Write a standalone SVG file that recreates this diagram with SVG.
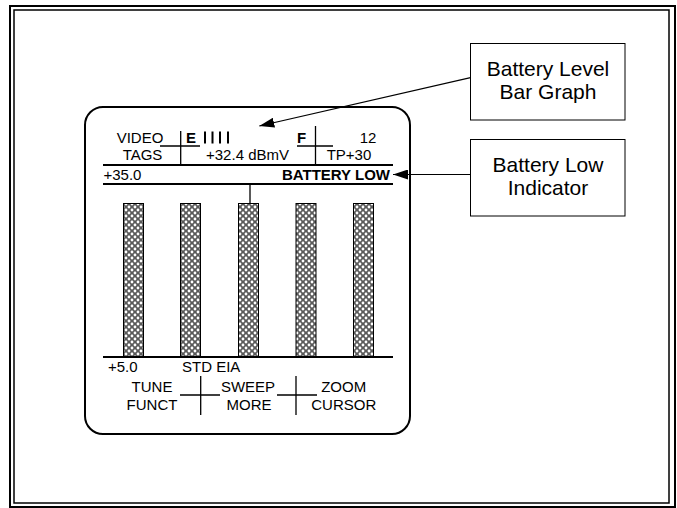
<svg xmlns="http://www.w3.org/2000/svg" width="677" height="508" viewBox="0 0 677 508">
<style>
.t{font-family:"Liberation Sans",Arial,sans-serif;font-size:15px;fill:#000}
.b{font-weight:bold}
.c{font-family:"Liberation Sans",Arial,sans-serif;font-size:21px;fill:#000;text-anchor:middle}
.m{text-anchor:middle}
.ln{stroke:#000;stroke-width:1.3;fill:none}
.tk{stroke:#000;stroke-width:2;fill:none}
.bar{fill:url(#hatch);stroke:#000;stroke-width:1}
.box{fill:#fff;stroke:#000;stroke-width:1}
.con{stroke:#000;stroke-width:1.2;fill:none;marker-end:url(#arr)}
</style>
<defs>
<pattern id="hatch" width="6" height="6" patternUnits="userSpaceOnUse">
<rect width="6" height="6" fill="#5a5a5a"/>
<circle cx="3" cy="3" r="1.4" fill="#fff"/>
<circle cx="0" cy="0" r="1.4" fill="#fff"/>
<circle cx="6" cy="0" r="1.4" fill="#fff"/>
<circle cx="0" cy="6" r="1.4" fill="#fff"/>
<circle cx="6" cy="6" r="1.4" fill="#fff"/>
</pattern>
<marker id="arr" markerUnits="userSpaceOnUse" markerWidth="15" markerHeight="10" refX="15" refY="5" orient="auto">
<path d="M0,0 L15,5 L0,10 z" fill="#000"/>
</marker>
</defs>
<rect x="0" y="0" width="677" height="508" fill="#fff"/>
<g id="frame">
<rect x="10" y="6" width="665" height="501" fill="none" stroke="#000" stroke-width="2"/>
<rect x="14" y="10" width="655" height="493" fill="none" stroke="#000" stroke-width="1.5"/>
</g>
<g id="screen">
<rect x="85" y="107" width="325" height="327" rx="18" ry="18" class="tk"/>
<text class="t m" x="140" y="143">VIDEO</text>
<text class="t m" x="142.5" y="159.5">TAGS</text>
<text class="t b" x="186" y="143">E</text>
<rect x="204" y="131.5" width="2" height="12" fill="#000"/>
<rect x="211.5" y="131.5" width="2" height="12" fill="#000"/>
<rect x="219" y="131.5" width="2" height="12" fill="#000"/>
<rect x="227" y="131.5" width="2" height="12" fill="#000"/>
<text class="t b" x="297" y="143">F</text>
<text class="t m" x="368" y="143">12</text>
<text class="t m" x="247.5" y="159.5">+32.4 dBmV</text>
<text class="t m" x="349" y="159.5">TP+30</text>
<path class="ln" d="M180.7,131 V165 M160,146 H200 M315.5,126 V165 M297,146 H333"/>
<path class="tk" d="M103,165 H393 M103,184 H393 M103,357 H393"/>
<text class="t" x="103.5" y="179.5">+35.0</text>
<text class="t b" x="390" y="179.5" text-anchor="end">BATTERY LOW</text>
<path class="ln" d="M250,184 V203"/>
<rect class="bar" x="123.5" y="203.5" width="20" height="153"/>
<rect class="bar" x="180.5" y="203.5" width="20" height="153"/>
<rect class="bar" x="238.5" y="203.5" width="20" height="153"/>
<rect class="bar" x="296" y="203.5" width="20" height="153"/>
<rect class="bar" x="353.5" y="203.5" width="20" height="153"/>
<text class="t" x="108" y="372">+5.0</text>
<text class="t" x="182" y="372">STD EIA</text>
<text class="t m" x="152" y="392">TUNE</text>
<text class="t m" x="152" y="409.5">FUNCT</text>
<text class="t m" x="248" y="392">SWEEP</text>
<text class="t m" x="249" y="409.5">MORE</text>
<text class="t m" x="343.7" y="392">ZOOM</text>
<text class="t m" x="343.8" y="409.5">CURSOR</text>
<path class="ln" d="M200.7,376 V415 M180,395 H220 M296,376 V415 M277,395 H317"/>
</g>
<g id="callout-bargraph">
<rect class="box" x="470.5" y="43.5" width="154.5" height="76.5"/>
<text class="c" x="548" y="75.5">Battery Level</text>
<text class="c" x="548" y="98.5">Bar Graph</text>
</g>
<g id="callout-lowind">
<rect class="box" x="470.5" y="139.5" width="154.5" height="76.5"/>
<text class="c" x="548" y="171.5">Battery Low</text>
<text class="c" x="548" y="194.5">Indicator</text>
</g>
<g id="connectors">
<path class="con" d="M470.5,77.7 L259.3,126"/>
<path class="con" d="M470.5,174.5 L393,174.5"/>
</g>
</svg>
